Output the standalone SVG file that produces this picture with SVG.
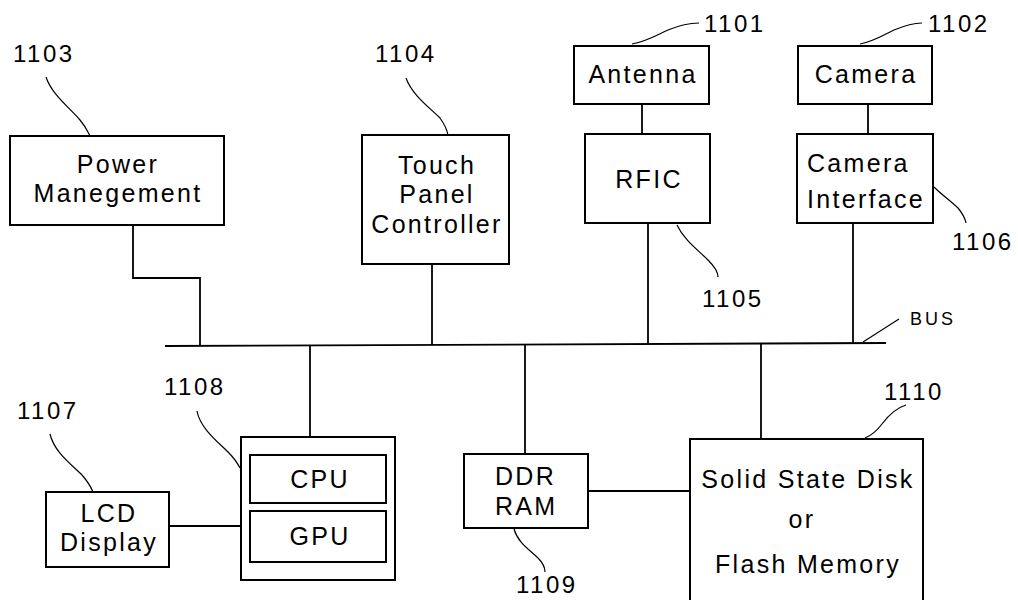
<svg xmlns="http://www.w3.org/2000/svg" width="1018" height="600" viewBox="0 0 1018 600">
<style>
.box{fill:none;stroke:#000;stroke-width:2}
.ln{fill:none;stroke:#000;stroke-width:1.8}
.ld{fill:none;stroke:#000;stroke-width:1.2}
.t{font-family:"Liberation Sans",Arial,sans-serif;font-size:25px;letter-spacing:2.3px;fill:#000}
.m{text-anchor:middle}
.n{font-family:"Liberation Sans",Arial,sans-serif;font-size:24px;letter-spacing:2.5px;fill:#000}
.b{font-family:"Liberation Sans",Arial,sans-serif;font-size:18px;letter-spacing:3px;fill:#000}
</style>
<rect width="1018" height="600" fill="#fff"/>
<g id="connectors">
<path class="ln" d="M165,346 L886,343"/>
<path class="ln" d="M133,225 V278 H200 V346"/>
<path class="ln" d="M432,264 V345"/>
<path class="ln" d="M648,223 V344"/>
<path class="ln" d="M642,104 V134"/>
<path class="ln" d="M868,104 V134"/>
<path class="ln" d="M853,223 V343"/>
<path class="ln" d="M310,345.5 V437"/>
<path class="ln" d="M525,344.5 V454"/>
<path class="ln" d="M761,343.5 V439"/>
<path class="ln" d="M169,526 H241"/>
<path class="ln" d="M588,491 H690"/>
<path class="ld" d="M863,342 L899,319"/>
</g>
<g id="n1103">
<rect class="box" x="10" y="136" width="214" height="89"/>
<text class="t m" x="118" y="173">Power</text>
<text class="t m" x="118" y="202">Manegement</text>
<text class="n" x="13" y="62">1103</text>
<path class="ld" d="M46,77 C52,95 70,108 80,120 C86,127 88,132 90,136"/>
</g>
<g id="n1104">
<rect class="box" x="362" y="135" width="147" height="129"/>
<text class="t m" x="437" y="174">Touch</text>
<text class="t m" x="437" y="203">Panel</text>
<text class="t m" x="437" y="233">Controller</text>
<text class="n" x="375" y="62">1104</text>
<path class="ld" d="M406,78 C412,95 430,108 440,118 C445,125 447,130 448,135"/>
</g>
<g id="n1101">
<rect class="box" x="574" y="46" width="135" height="58"/>
<text class="t m" x="643" y="83">Antenna</text>
<text class="n" x="704" y="32">1101</text>
<path class="ld" d="M632,44 C645,42 655,36 668,30 C680,25 690,23 699,23"/>
</g>
<g id="n1102">
<rect class="box" x="798" y="46" width="134" height="58"/>
<text class="t m" x="866" y="83">Camera</text>
<text class="n" x="928" y="32">1102</text>
<path class="ld" d="M860,44 C872,42 882,36 894,30 C906,25 914,23 922,23"/>
</g>
<g id="n1105">
<rect class="box" x="585" y="134" width="125" height="89"/>
<text class="t m" x="649" y="188">RFIC</text>
<text class="n" x="702" y="307">1105</text>
<path class="ld" d="M677,225 C684,240 698,250 708,260 C714,266 718,272 718,277"/>
</g>
<g id="n1106">
<rect class="box" x="797" y="134" width="136" height="89"/>
<text class="t" x="807" y="172">Camera</text>
<text class="t" x="807" y="208">Interface</text>
<text class="n" x="952" y="250">1106</text>
<path class="ld" d="M934,187 C942,195 952,202 958,208 C963,214 965,218 966,223"/>
</g>
<g id="bus">
<text class="b" x="910" y="325">BUS</text>
</g>
<g id="n1107">
<rect class="box" x="46" y="492" width="123" height="75"/>
<text class="t m" x="109" y="522">LCD</text>
<text class="t m" x="109" y="551">Display</text>
<text class="n" x="17" y="419">1107</text>
<path class="ld" d="M50,434 C54,452 72,465 82,475 C88,482 91,487 93,492"/>
</g>
<g id="n1108">
<rect class="box" x="241" y="437" width="154" height="143"/>
<rect class="box" x="250" y="455" width="136" height="48"/>
<rect class="box" x="250" y="511" width="136" height="51"/>
<text class="t m" x="320" y="488">CPU</text>
<text class="t m" x="320" y="545">GPU</text>
<text class="n" x="164" y="395">1108</text>
<path class="ld" d="M197,411 C200,428 218,442 228,452 C235,459 238,464 240,468"/>
</g>
<g id="n1109">
<rect class="box" x="464" y="454" width="124" height="74"/>
<text class="t" x="495" y="485">DDR</text>
<text class="t" x="495" y="515">RAM</text>
<text class="n" x="516" y="593">1109</text>
<path class="ld" d="M514,529 C518,543 530,550 538,558 C543,563 545,568 545,572"/>
</g>
<g id="n1110">
<rect class="box" x="690" y="439" width="233" height="180"/>
<text class="t m" x="808" y="488">Solid State Disk</text>
<text class="t m" x="802" y="528">or</text>
<text class="t m" x="808" y="573">Flash Memory</text>
<text class="n" x="884" y="400">1110</text>
<path class="ld" d="M906,405 C896,408 888,416 882,424 C876,432 870,436 865,438"/>
</g>
</svg>
